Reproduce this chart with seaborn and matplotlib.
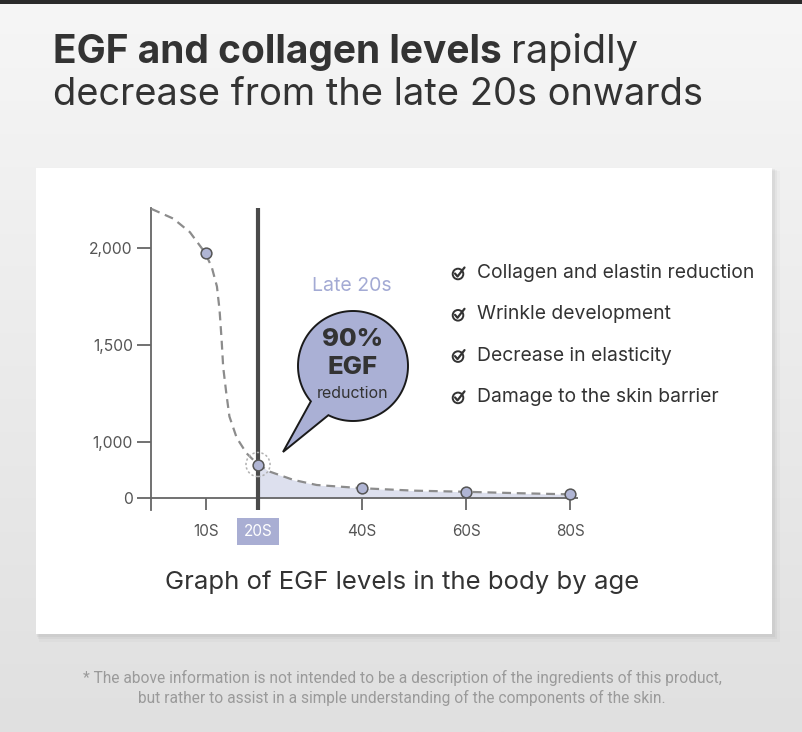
import numpy as np
import pandas as pd
import matplotlib
matplotlib.use("Agg")
import matplotlib.pyplot as plt
import seaborn as sns
from matplotlib.patches import Rectangle, Circle, Polygon

# data
curve_age = [-0.5, 3.7, 6.9, 9.8, 11.1, 12.1, 12.6, 13.0, 13.3, 13.9, 14.5, 15.9, 17.8,
             20, 22.3, 26.8, 31.3, 40, 50, 60, 70, 80]
curve_level = [2200, 2150, 2080, 1975, 1900, 1800, 1680, 1525, 1385, 1250, 1130, 1020, 795,
               597, 470, 325, 235, 178, 135, 115, 90, 70]
point_age = [10, 20, 40, 60, 80]
point_level = [1975, 597, 178, 115, 70]
tick_ages = [10, 20, 40, 60, 80]
tick_names = ["10S", "20S", "40S", "60S", "80S"]
level_ticks = [0, 1000, 1500, 2000]
level_names = ["0", "1,000", "1,500", "2,000"]
checklist = ["Collagen and elastin reduction", "Wrinkle development",
             "Decrease in elasticity", "Damage to the skin barrier"]

curve = pd.DataFrame({"age": curve_age, "level": curve_level})
points = pd.DataFrame({"age": point_age, "level": point_level})

sns.set_theme(style="white")
plt.rcParams['font.family'] = ['Inter', 'DejaVu Sans']

W, H = 802, 732
fig = plt.figure(figsize=(W / 100, H / 100), dpi=100)

# background + card
bg = fig.add_axes([0, 0, 1, 1], zorder=0)
bg.set_xlim(0, W)
bg.set_ylim(H, 0)
bg.axis("off")
grad = np.linspace(0, 1, 256).reshape(-1, 1)
bg.imshow(grad, cmap=matplotlib.colors.LinearSegmentedColormap.from_list("g", ["#f6f6f6", "#e0e0e0"]),
          extent=[0, W, H, 0], aspect="auto")
bg.add_patch(Rectangle((0, 0), W, 4, color="#2a2a2a", lw=0))
for i, a in enumerate([0.05, 0.04, 0.03, 0.02]):
    bg.add_patch(Rectangle((36 + i, 168 + i), 736 + 1.5 * i, 466 + 1.5 * i, color="black", alpha=a, lw=0))
bg.add_patch(Rectangle((36, 168), 736, 466, color="white", lw=0))

# main chart
ax = fig.add_axes([150.9 / W, (H - 510) / H, 426.9 / W, 302 / H], zorder=1)
ax.patch.set_alpha(0)


def fwd(v):
    v = np.asarray(v, dtype=float)
    return np.where(v <= 1000, v * 0.0566, 56.6 + (v - 1000) * 0.194)


def inv(h):
    h = np.asarray(h, dtype=float)
    return np.where(h <= 56.6, h / 0.0566, 1000 + (h - 56.6) / 0.194)


ax.set_yscale("function", functions=(fwd, inv))
ax.set_xlim(-0.6, 81.5)
ax.set_ylim(-206.7, 2204.6)

late = curve[curve["age"] >= 20]
ax.fill_between(late["age"], 0, late["level"], color="#dde0ee", lw=0, zorder=1)
ax.axhline(0, color="#666666", lw=1.3, zorder=2)
ax.axvline(20, color="#4a4a4a", lw=3, zorder=3)
sns.lineplot(data=curve, x="age", y="level", ax=ax, color="#8c8c8c", lw=1.6,
             linestyle=(0, (4, 2.6)), zorder=4)
ax.scatter([20], [597], s=300, facecolor="none", edgecolor="#b0b0b0", lw=1.1,
           linestyle=(0, (1.5, 1.5)), zorder=5)
sns.scatterplot(data=points, x="age", y="level", ax=ax, s=60, color="#b0b5d4",
                edgecolor="#555555", linewidth=1.1, zorder=6)

for s in ["top", "right", "bottom"]:
    ax.spines[s].set_visible(False)
ax.spines["left"].set_color("#666666")
ax.spines["left"].set_linewidth(1.3)
ax.set_yticks(level_ticks)
ax.set_yticklabels(level_names)
ax.set_xticks(tick_ages)
ax.set_xticklabels(tick_names)
ax.minorticks_off()
ax.tick_params(axis="y", left=True, direction="out", length=10, width=1.3, color="#666666",
               labelsize=11.3, labelcolor="#555555", pad=3)
ax.tick_params(axis="x", bottom=True, direction="in", length=8.5, width=1.3, color="#666666",
               labelsize=11, labelcolor="#555555", pad=10)
ax.set_xlabel("")
ax.set_ylabel("")
lab20 = ax.get_xticklabels()[1]
lab20.set_color("white")
lab20.set_bbox(dict(facecolor="#a9aed3", edgecolor="none", pad=4.5))

# overlay in pixel units
ov = fig.add_axes([0, 0, 1, 1], zorder=2)
ov.set_xlim(0, W)
ov.set_ylim(H, 0)
ov.axis("off")
ov.patch.set_alpha(0)

# speech bubble
cx, cy, r = 353, 366, 55
t1, t2 = np.deg2rad(140), np.deg2rad(116.6 + 360)
tt = np.linspace(t1, t2, 200)
outline = np.column_stack([cx + r * np.cos(tt), cy + r * np.sin(tt)])
outline = np.vstack([outline, [[283, 452]]])
ov.add_patch(Polygon(outline, closed=True, facecolor="#aab0d5", edgecolor="#1a1a1a", lw=1.4))
ov.text(cx, 340, "90%", ha="center", va="center", fontsize=18.5, fontweight="heavy", color="#333333")
ov.text(cx, 368, "EGF", ha="center", va="center", fontsize=18.5, fontweight="heavy", color="#333333")
ov.text(cx, 393, "reduction", ha="center", va="center", fontsize=11.5, color="#333333")
ov.text(352, 286, "Late 20s", ha="center", va="center", fontsize=14, color="#a3aad4")

# checklist
for i, item in enumerate(checklist):
    y = 273 + i * 41.3
    ov.add_patch(Circle((458, y + 1), 5.3, facecolor="none", edgecolor="#333333", lw=1.4))
    ov.plot([455, 457.5, 464.5], [y + 0.5, y + 3.5, y - 5.5], color="#333333", lw=1.6,
            solid_capstyle="round", solid_joinstyle="round")
    ov.text(477, y, item, ha="left", va="center", fontsize=13.9, color="#333333")

# titles and notes
t_bold = ov.text(53, 63, "EGF and collagen levels", ha="left", va="baseline", fontsize=28,
                 fontweight="bold", color="#333333")
ov.text(53, 105, "decrease from the late 20s onwards", ha="left", va="baseline",
        fontsize=27.4, color="#333333")
ov.text(402, 582, "Graph of EGF levels in the body by age", ha="center", va="center",
        fontsize=18.5, color="#333333")
ov.text(402, 678, "* The above information is not intended to be a description of the ingredients of this product,",
        ha="center", va="center", fontsize=11.2, color="#9a9a9a", family=["Roboto", "DejaVu Sans"])
ov.text(402, 698, "but rather to assist in a simple understanding of the components of the skin.",
        ha="center", va="center", fontsize=11.2, color="#9a9a9a", family=["Roboto", "DejaVu Sans"])

# "rapidly" placed right after the bold part
fig.canvas.draw()
bb = t_bold.get_window_extent()
x_end = ov.transData.inverted().transform((bb.x1, bb.y0))[0]
ov.text(x_end + 9, 63, "rapidly", ha="left", va="baseline", fontsize=28.5, color="#333333")

fig.savefig("out.png", dpi=100)
